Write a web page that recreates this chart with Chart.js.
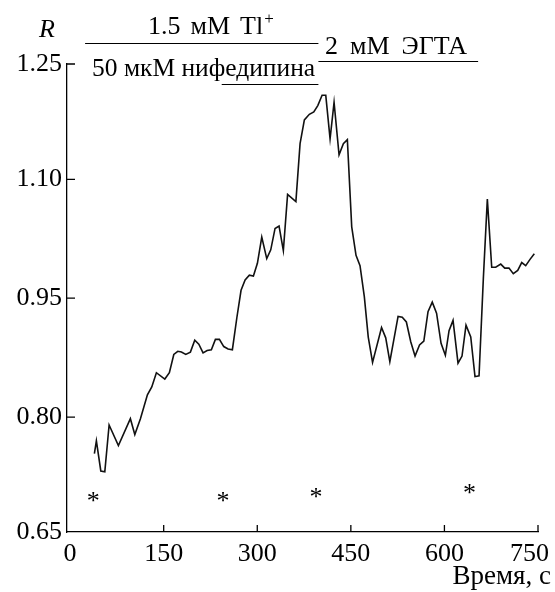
<!DOCTYPE html>
<html>
<head>
<meta charset="utf-8">
<script src="https://cdn.jsdelivr.net/npm/chart.js@4"></script>
<style>
  body { margin: 0; background: #fff; }
</style>
</head>
<body>
<canvas id="myChart" width="555" height="592"></canvas>
<script>
// time, s
const times = [38.9, 42.1, 49.2, 55.6, 62.5, 77.4, 96.6, 103.7, 112.7, 123.9,
  130.9, 138.3, 151.8, 159.1, 166.2, 172.6, 178.4, 185.4, 192.8, 199.8,
  206.3, 213.1, 219.6, 226.4, 232.9, 239.3, 246.3, 253.2, 260.1, 267.2,
  274.0, 280.5, 287.3, 293.8, 300.2, 307.2, 315.2, 321.6, 328.5, 334.9,
  341.8, 348.6, 361.9, 368.6, 375.5, 383.5, 390.6, 397.0, 403.9, 409.8,
  416.7, 423.1, 431.1, 438.0, 444.4, 451.4, 458.3, 464.7, 471.6, 477.9,
  484.8, 499.2, 505.9, 512.5, 525.7, 532.4, 539.0, 546.0, 552.9, 560.1,
  567.0, 573.7, 580.5, 587.4, 594.6, 601.5, 607.4, 613.8, 621.8, 628.2,
  634.6, 642.2, 649.0, 655.5, 662.4, 668.8, 675.8, 682.2, 690.3, 696.7,
  703.5, 710.4, 717.5, 723.9, 730.3, 737.2, 744.1];
// R
const ratio = [0.754, 0.770, 0.732, 0.731, 0.790, 0.764, 0.798, 0.778, 0.798, 0.828,
  0.838, 0.856, 0.848, 0.856, 0.879, 0.883, 0.882, 0.879, 0.882, 0.897,
  0.892, 0.881, 0.884, 0.885, 0.898, 0.898, 0.889, 0.886, 0.885, 0.925,
  0.960, 0.973, 0.979, 0.978, 0.994, 1.027, 1.000, 1.011, 1.038, 1.041,
  1.010, 1.081, 1.072, 1.145, 1.175, 1.182, 1.185, 1.193, 1.206, 1.206,
  1.151, 1.197, 1.131, 1.145, 1.150, 1.040, 1.004, 0.991, 0.952, 0.901,
  0.869, 0.913, 0.900, 0.870, 0.927, 0.926, 0.920, 0.895, 0.877, 0.891,
  0.896, 0.933, 0.945, 0.931, 0.893, 0.878, 0.909, 0.922, 0.868, 0.877,
  0.916, 0.901, 0.851, 0.852, 0.975, 1.075, 0.989, 0.989, 0.993, 0.988,
  0.988, 0.981, 0.985, 0.995, 0.991, 0.999, 1.006];

const xTicks = [0, 150, 300, 450, 600, 750];
const xLabels = ['0', '150', '300', '450', '600', '750'];
const yTicks = [0.655, 0.80, 0.95, 1.10, 1.2455];
const yLabels = ['0.65', '0.80', '0.95', '1.10', '1.25'];

// asterisks
const starTimes = [37, 245, 394, 640];
const starLevels = [0.698, 0.698, 0.703, 0.708];

// treatment bars: start, end (s)
const tlPeriod = [24, 398];
const nifPeriod = [243, 398];
const egtaPeriod = [398, 654];

const serif = '"Liberation Serif", "Times New Roman", serif';

// writes words one by one with a wider gap between them
function words(ctx, list, x, y, gap) {
  for (const w of list) {
    ctx.fillText(w, x, y);
    x += ctx.measureText(w).width + gap;
  }
  return x - gap;
}

const extras = {
  id: 'extras',
  afterDraw(chart) {
    const ctx = chart.ctx;
    const xs = chart.scales.x;
    const ys = chart.scales.y;
    const area = chart.chartArea;
    ctx.save();
    ctx.strokeStyle = '#000';
    ctx.lineWidth = 1.3;
    // inner tick marks
    ctx.beginPath();
    for (let i = 1; i < xTicks.length; i++) {
      const px = xs.getPixelForValue(xTicks[i]);
      ctx.moveTo(px, area.bottom);
      ctx.lineTo(px, area.bottom - 7);
    }
    for (let i = 1; i < yTicks.length; i++) {
      const py = ys.getPixelForValue(yTicks[i]);
      ctx.moveTo(area.left, py);
      ctx.lineTo(area.left + 8, py);
    }
    ctx.stroke();

    // x tick labels, kept inside the page
    ctx.fillStyle = '#000';
    ctx.font = '26px ' + serif;
    ctx.textAlign = 'center';
    ctx.textBaseline = 'alphabetic';
    for (let i = 0; i < xTicks.length; i++) {
      const w = ctx.measureText(xLabels[i]).width;
      const px = Math.min(xs.getPixelForValue(xTicks[i]), 549 - w / 2);
      ctx.fillText(xLabels[i], px, 561);
    }

    // treatment bars
    ctx.lineWidth = 1.2;
    const bar = (p, y) => {
      ctx.beginPath();
      ctx.moveTo(xs.getPixelForValue(p[0]), y);
      ctx.lineTo(xs.getPixelForValue(p[1]), y);
      ctx.stroke();
    };
    bar(tlPeriod, 43.5);
    bar(nifPeriod, 84.5);
    bar(egtaPeriod, 61.5);

    ctx.textAlign = 'left';
    ctx.font = 'italic 26px ' + serif;
    ctx.fillText('R', 39, 37);
    ctx.font = '26px ' + serif;
    const end = words(ctx, ['1.5', 'мМ', 'Tl'], 148, 34, 10);
    ctx.font = '17px ' + serif;
    ctx.fillText('+', end + 1, 24);
    ctx.font = '25.5px ' + serif;
    ctx.fillText('50 мкМ нифедипина', 92, 76);
    ctx.font = '26px ' + serif;
    words(ctx, ['2', 'мМ', 'ЭГТА'], 325, 54, 12);
    ctx.textAlign = 'right';
    ctx.font = '27px ' + serif;
    ctx.fillText('Время, с', 551, 584);

    // asterisks
    ctx.textAlign = 'center';
    ctx.font = '26px ' + serif;
    for (let i = 0; i < starTimes.length; i++) {
      const px = xs.getPixelForValue(starTimes[i]);
      const py = ys.getPixelForValue(starLevels[i]);
      ctx.fillText('*', px, py + 11);
    }
    ctx.restore();
  }
};

new Chart(document.getElementById('myChart'), {
  type: 'line',
  data: {
    datasets: [{
      data: times.map((t, i) => ({ x: t, y: ratio[i] })),
      borderColor: '#111',
      borderWidth: 1.6,
      pointRadius: 0,
      tension: 0,
      fill: false
    }]
  },
  options: {
    responsive: false,
    animation: false,
    devicePixelRatio: 1,
    layout: { padding: { top: 64, right: 17, left: 0, bottom: 0 } },
    plugins: {
      legend: { display: false },
      tooltip: { enabled: false }
    },
    scales: {
      x: {
        type: 'linear',
        min: -5,
        max: 750,
        afterBuildTicks: (s) => { s.ticks = xTicks.map(v => ({ value: v })); },
        afterFit: (s) => { s.height = 60; s.paddingLeft = 0; s.paddingRight = 0; },
        grid: { display: true, drawOnChartArea: false, drawTicks: false },
        border: { display: true, color: '#000', width: 1.3 },
        ticks: { display: false }
      },
      y: {
        min: 0.655,
        max: 1.2455,
        afterBuildTicks: (s) => { s.ticks = yTicks.map(v => ({ value: v })); },
        afterFit: (s) => { s.width = 67; s.paddingTop = 0; s.paddingBottom = 0; },
        grid: { display: true, drawOnChartArea: false, drawTicks: false },
        border: { display: true, color: '#000', width: 1.3 },
        ticks: {
          color: '#000',
          padding: 5,
          autoSkip: false,
          font: { family: serif, size: 26 },
          callback: (v, i) => yLabels[i]
        }
      }
    }
  },
  plugins: [extras]
});
</script>
</body>
</html>
